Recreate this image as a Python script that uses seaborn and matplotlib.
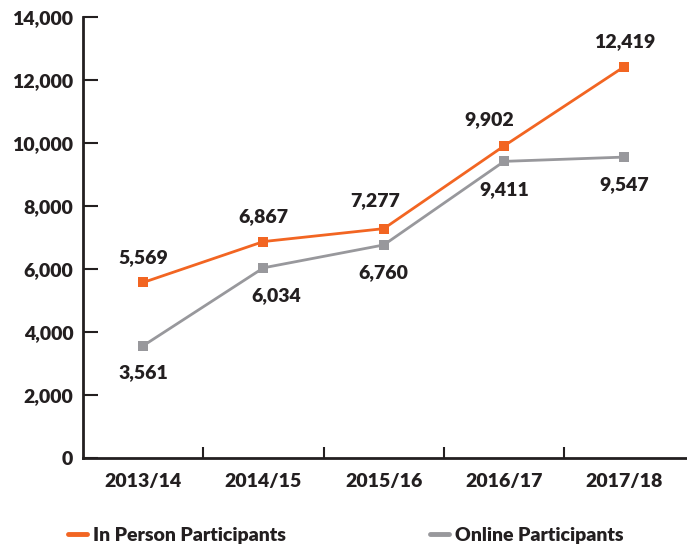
import pandas as pd
import seaborn as sns
import matplotlib.pyplot as plt

years = ['2013/14', '2014/15', '2015/16', '2016/17', '2017/18']
in_person = [5569, 6867, 7277, 9902, 12419]
online = [3561, 6034, 6760, 9411, 9547]

orange = '#f26522'
grey = '#98989c'
ink = '#231f20'
fs = 14

sns.set_style('white')
plt.rcParams['font.family'] = ['Lato', 'DejaVu Sans']
plt.rcParams['font.weight'] = 'bold'

fig = plt.figure(figsize=(6.87, 5.48), dpi=100)
ax = fig.add_axes([0.1208, 0.1642, 0.8792, 0.8053])

x = list(range(len(years)))
sns.lineplot(x=x, y=in_person, ax=ax, color=orange, lw=2, marker='s', markersize=7.5,
             markeredgewidth=0, label='In Person Participants')
sns.lineplot(x=x, y=online, ax=ax, color=grey, lw=2, marker='s', markersize=7.5,
             markeredgewidth=0, label='Online Participants')

# label offsets in points (dx, dy)
in_off = [(0, 18), (0, 18), (-6, 20), (-11, 19), (0, 18)]
on_off = [(0, -19), (9, -20), (0, -20), (0, -20), (0, -20)]
for i in x:
    ax.annotate(f'{in_person[i]:,}', (i, in_person[i]), xytext=in_off[i], textcoords='offset points',
                ha='center', va='center', fontsize=fs, fontweight='heavy', color=ink)
    ax.annotate(f'{online[i]:,}', (i, online[i]), xytext=on_off[i], textcoords='offset points',
                ha='center', va='center', fontsize=fs, fontweight='heavy', color=ink)

ax.set_xlim(-0.5, 4.52)
ax.set_ylim(0, 14000)
ax.set_yticks(range(0, 14001, 2000))
ax.set_yticklabels([f'{v:,}' for v in range(0, 14001, 2000)])
ax.set_xticks(x)
ax.set_xticklabels(years)
ax.set_xticks([0.5, 1.5, 2.5, 3.5], minor=True)

for s in ['top', 'right']:
    ax.spines[s].set_visible(False)
for s in ['left', 'bottom']:
    ax.spines[s].set_color(ink)
    ax.spines[s].set_linewidth(2)

ax.tick_params(axis='y', direction='in', length=10.8, width=1.5, color=ink, pad=7,
               labelsize=fs, labelcolor=ink, left=True)
ax.tick_params(axis='x', which='major', length=0, pad=11, labelsize=fs, labelcolor=ink)
ax.tick_params(axis='x', which='minor', direction='in', length=7.9, width=1.5, color=ink, bottom=True)
for lab in ax.get_xticklabels() + ax.get_yticklabels():
    lab.set_fontweight('heavy')

ax.set_xlabel('')
ax.set_ylabel('')
ax.get_legend().remove()
handles, labels = ax.get_legend_handles_labels()
handles = [plt.Line2D([], [], color=orange, lw=3.5), plt.Line2D([], [], color=grey, lw=3.5)]
fig.legend(handles, labels, loc='center left', bbox_to_anchor=(68 / 687, 1 - 535 / 548), ncol=2,
           frameon=False, borderpad=0, borderaxespad=0, handlelength=1.0, handletextpad=0.3,
           columnspacing=7.4, prop={'size': fs, 'weight': 'heavy'}, labelcolor=ink)

fig.savefig('out.png', dpi=100)
